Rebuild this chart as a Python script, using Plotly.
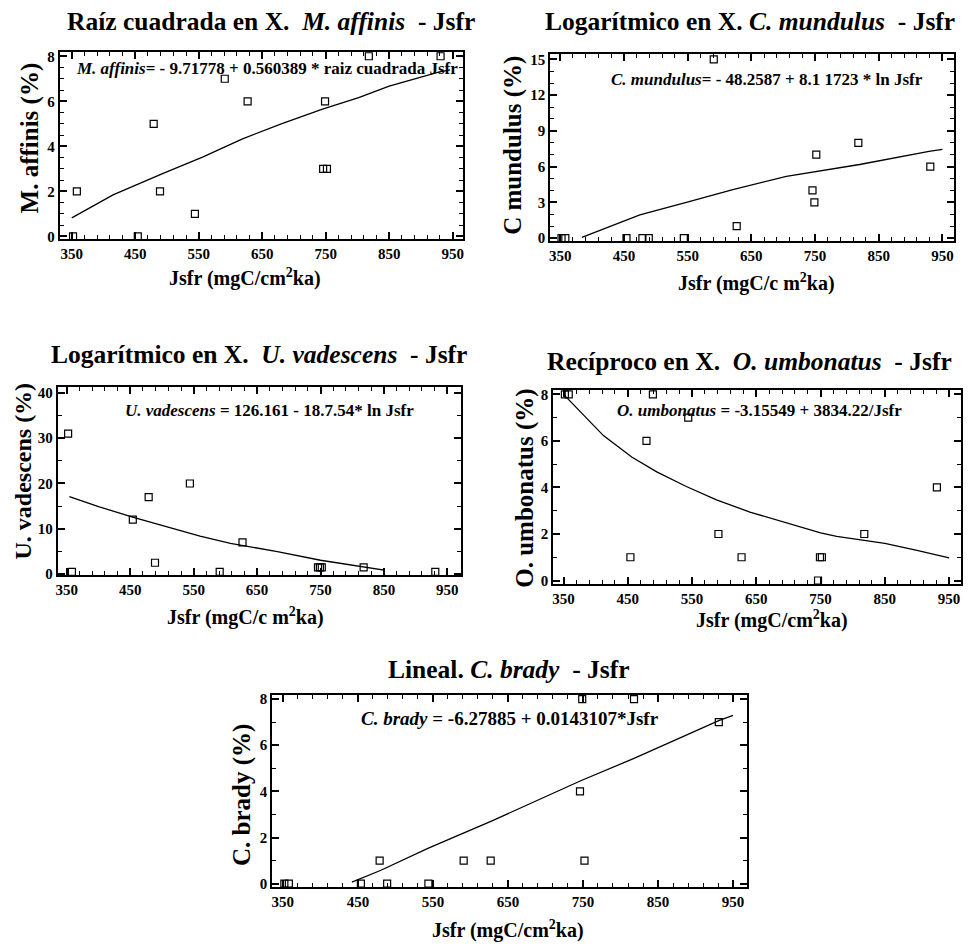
import plotly.graph_objects as go

W, H = 977, 949
OFF = 8  # default page body margin
FONT = "Liberation Serif"

# ---- data ----
jsfr = [352, 358, 454, 479, 489, 544, 591, 627, 746, 749, 752, 818, 931]
m_affinis = [0, 2, 0, 5, 2, 1, 7, 6, 3, 6, 3, 8, 8]
c_mundulus = [0, 0, 0, 0, 0, 0, 15, 1, 4, 3, 7, 8, 6]
u_vadescens = [31, 0.5, 12, 17, 2.5, 20, 0.5, 7, 1.5, 1.5, 1.5, 1.5, 0.5]
o_umbonatus = [8, 8, 1, 6, 8, 7, 2, 1, 0, 1, 1, 2, 4]
c_brady = [0, 0, 0, 1, 0, 0, 1, 1, 4, 8, 1, 8, 7]

fit_m_affinis_x = [350, 415, 493, 556, 619, 680, 745, 802, 850, 928, 946]
fit_m_affinis_y = [0.82, 1.84, 2.79, 3.52, 4.33, 5.0, 5.65, 6.16, 6.67, 7.30, 7.40]
fit_c_mundulus_x = [384, 475, 548, 621, 705, 752, 820, 929, 950]
fit_c_mundulus_y = [0.05, 1.94, 3.0, 4.07, 5.18, 5.6, 6.18, 7.29, 7.45]
fit_u_vadescens_x = [354, 400, 455, 500, 560, 608, 641, 682, 750, 819, 850, 852]
fit_u_vadescens_y = [17.1, 14.9, 12.5, 10.7, 8.4, 6.8, 6.0, 4.95, 3.05, 1.46, 0.87, -2]
fit_o_umbonatus_x = [350, 412, 456, 495, 541, 588, 640, 700, 750, 775, 850, 900, 950]
fit_o_umbonatus_y = [8.0, 6.23, 5.31, 4.67, 4.04, 3.47, 2.94, 2.45, 2.05, 1.9, 1.6, 1.3, 0.97]
fit_c_brady_x = [442, 480, 544, 628, 747, 818, 931, 950]
fit_c_brady_y = [0.07, 0.57, 1.54, 2.71, 4.46, 5.43, 7.07, 7.29]

titles = [
    "Raíz cuadrada en X.\u00a0 <i>M. affinis</i>\u00a0 - Jsfr",
    "Logarítmico en X.\u00a0<i>C. mundulus</i>\u00a0 - Jsfr",
    "Logarítmico en X.\u00a0 <i>U. vadescens</i>\u00a0 - Jsfr",
    "Recíproco en X.\u00a0 <i>O. umbonatus</i>\u00a0 - Jsfr",
    "Lineal. <i>C. brady</i>\u00a0 - Jsfr",
]
equations = [
    "<i>M. affinis</i>= - 9.71778 + 0.560389 * raiz cuadrada Jsfr",
    "<i>C. mundulus</i>= - 48.2587 + 8.1 1723 * ln Jsfr",
    "<i>U. vadescens</i> = 126.161 - 18.7.54* ln Jsfr",
    "<i>O. umbonatus</i> = -3.15549 + 3834.22/Jsfr",
    "<i>C. brady</i> = -6.27885 + 0.0143107*Jsfr",
]
ytitles = ["M. affinis (%)", "C mundulus (%)", "U. vadescens (%)",
           "O. umbonatus (%)", "C. brady (%)"]
xtitles = ["Jsfr (mgC/cm<sup>2</sup>ka)", "Jsfr (mgC/c m<sup>2</sup>ka)",
           "Jsfr (mgC/c m<sup>2</sup>ka)", "Jsfr (mgC/cm<sup>2</sup>ka)",
           "Jsfr (mgC/cm<sup>2</sup>ka)"]

series = [m_affinis, c_mundulus, u_vadescens, o_umbonatus, c_brady]
fits = [(fit_m_affinis_x, fit_m_affinis_y), (fit_c_mundulus_x, fit_c_mundulus_y),
        (fit_u_vadescens_x, fit_u_vadescens_y), (fit_o_umbonatus_x, fit_o_umbonatus_y),
        (fit_c_brady_x, fit_c_brady_y)]

# ---- layout (pixel boxes in page coordinates) ----
boxes = [(58, 462, 48, 238), (550, 955, 50, 240), (56, 460, 387, 578),
         (553, 962, 390, 587), (271, 747, 699, 893)]
xranges = [(331.2, 965.7), (334.4, 968.3), (335.8, 970.9), (334.0, 968.6), (335.8, 968.2)]
yranges = [(-0.13, 8.21), (-0.27, 15.5), (-0.28, 41.4), (-0.16, 8.21), (-0.13, 8.18)]
ydticks = [2, 3, 10, 2, 2]
yminor = [0.5, 1, 5, 1, 1]
title_pos = [(270, 18), (750, 18), (258, 355), (750, 362), (509, 673)]
eq_pos = [(266, 65), (767, 76), (268, 411), (760, 411), (510, 723)]
eq_size = [17, 17, 17, 17, 19]
xt_pos = [(244, 277), (757, 282), (244, 620), (772, 623), (508, 936)]
yt_pos = [(28, 135), (513, 143), (21, 472), (525, 490), (240, 800)]
yt_size = [25, 25, 24, 25, 25]

FW, FH = W - OFF, H - OFF


def px(x):
    return (x - OFF) / FW


def py(y):
    return 1 - (y - OFF) / FH


fig = go.Figure()
layout = dict(width=FW, height=FH, margin=dict(l=0, r=0, t=0, b=0),
              paper_bgcolor="white", plot_bgcolor="white", showlegend=False)
annotations = []
tickfont = dict(family=FONT, size=15, color="black", weight="bold")

for i in range(5):
    n = "" if i == 0 else str(i + 1)
    xa, ya = "x" + n, "y" + n
    fig.add_trace(go.Scatter(x=fits[i][0], y=fits[i][1], mode="lines",
                             line=dict(color="black", width=1.3),
                             xaxis=xa, yaxis=ya, hoverinfo="skip"))
    fig.add_trace(go.Scatter(x=jsfr, y=series[i], mode="markers",
                             marker=dict(symbol="square-open", size=7, color="black",
                                         line=dict(width=1.2, color="black")),
                             xaxis=xa, yaxis=ya, cliponaxis=False))
    l, r, t, b = boxes[i]
    common = dict(showline=True, linecolor="black", linewidth=2, mirror="allticks",
                  ticks="inside", ticklen=7, tickwidth=1.5, tickcolor="black",
                  showgrid=False, zeroline=False, tickfont=tickfont)
    layout["xaxis" + n] = dict(common, domain=[px(l), px(r)], range=list(xranges[i]),
                               anchor=ya, tick0=350, dtick=100,
                               minor=dict(ticks="inside", ticklen=4, tickwidth=1,
                                          tickcolor="black", dtick=20, tick0=350))
    layout["yaxis" + n] = dict(common, domain=[py(b), py(t)], range=list(yranges[i]),
                               anchor=xa, tick0=0, dtick=ydticks[i],
                               minor=dict(ticks="inside", ticklen=4, tickwidth=1,
                                          tickcolor="black", dtick=yminor[i], tick0=0))
    annotations.append(dict(text="<b>" + titles[i] + "</b>", x=px(title_pos[i][0]),
                            y=py(title_pos[i][1]), xref="paper", yref="paper",
                            showarrow=False, xanchor="center", yanchor="middle",
                            font=dict(family=FONT, size=25.5, color="black")))
    annotations.append(dict(text="<b>" + equations[i] + "</b>", x=px(eq_pos[i][0]),
                            y=py(eq_pos[i][1]), xref="paper", yref="paper",
                            showarrow=False, xanchor="center", yanchor="middle",
                            font=dict(family=FONT, size=eq_size[i], color="black")))
    annotations.append(dict(text="<b>" + xtitles[i] + "</b>", x=px(xt_pos[i][0]),
                            y=py(xt_pos[i][1]), xref="paper", yref="paper",
                            showarrow=False, xanchor="center", yanchor="middle",
                            font=dict(family=FONT, size=20, color="black")))
    annotations.append(dict(text="<b>" + ytitles[i] + "</b>", x=px(yt_pos[i][0]),
                            y=py(yt_pos[i][1]), xref="paper", yref="paper",
                            showarrow=False, xanchor="center", yanchor="middle",
                            textangle=-90,
                            font=dict(family=FONT, size=yt_size[i], color="black")))

layout["annotations"] = annotations
fig.update_layout(**layout)
fig.write_html("out.html")
